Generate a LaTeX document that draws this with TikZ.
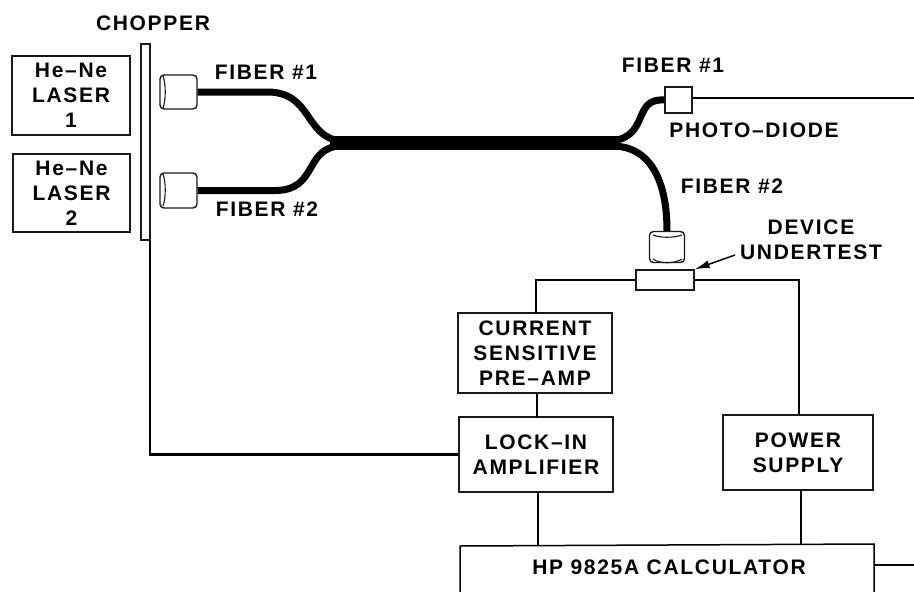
\documentclass[tikz,border=0pt]{standalone}
\usepackage{fontspec}
\setmainfont[LetterSpace=8]{Liberation Sans}
\usetikzlibrary{arrows.meta}
\tikzset{
  px/.style={x=1pt,y=-1pt},
  lbl/.style={font=\fontsize{21}{25}\selectfont\bfseries,inner sep=0pt,align=center,text=black},
  boxn/.style={draw=black!90,line width=1.5pt,inner sep=0pt,minimum width=#1,align=center,font=\fontsize{21}{25}\selectfont\bfseries},
  wire/.style={draw=black,line width=2.2pt},
  fiber/.style={draw=black,line width=7pt},
  part/.style={draw=black!90,line width=1.4pt,fill=white,inner sep=0pt,rounded corners=2pt}
}
\begin{document}
\begin{tikzpicture}[px]
\useasboundingbox (0,0) rectangle (914,592);
% boxes
\node[boxn=118pt,minimum height=79pt] (laser1) at (71,95.5) {He--Ne\\LASER\\1};
\node[boxn=117pt,minimum height=78pt] (laser2) at (71.5,193) {He--Ne\\LASER\\2};
\node[part,rounded corners=0pt,minimum width=9pt,minimum height=196pt] (chopper) at (145.5,142) {};
\node[lbl] (choplbl) at (153,23) {CHOPPER};
% fibers
\node[part,rounded corners=4pt,minimum width=37pt,minimum height=34pt] (conn1) at (178.5,92) {};
\node[part,rounded corners=4pt,minimum width=37pt,minimum height=35pt] (conn2) at (178.5,190.5) {};
\draw[black!90,line width=1.1pt] (163,76) .. controls (166,84) and (166,100) .. (163,108);
\draw[black!90,line width=1.1pt] (163,174) .. controls (166,182) and (166,198) .. (163,206);
\coordinate (j1) at (340,141);
\coordinate (j2) at (340,146);
\coordinate (j3) at (612,141);
\coordinate (j4) at (612,146);
\draw[fiber] (conn1.east) -- ++(68,0) .. controls (312,91) and (304,136) .. (j1);
\draw[fiber] (conn2.east) -- ++(78,0) .. controls (318,190) and (304,148) .. (j2);
\draw[draw=black,line width=14pt] (330,142.5) -- (618,142.5);
\node[part,rounded corners=0pt,minimum width=27pt,minimum height=26pt] (diode) at (678.5,100) {};
\draw[fiber] (j3) .. controls (650,136) and (632,98) .. (diode.west);
\node[part,rounded corners=4pt,minimum width=35pt,minimum height=31pt] (conn3) at (667,247) {};
\draw[black!90,line width=1.1pt] (653,259) .. controls (660,264) and (674,264) .. (682,259);
\draw[black!90,line width=1.1pt] (653,235) .. controls (660,238) and (674,238) .. (682,235);
\draw[fiber] (j4) .. controls (650,146) and (667,180) .. (conn3.north);
\node[part,rounded corners=0pt,minimum width=58pt,minimum height=20pt] (device) at (665,280) {};
\node[lbl] (fib1a) at (266,72) {FIBER \#1};
\node[lbl] (fib2a) at (267,209) {FIBER \#2};
\node[lbl] (fib1b) at (673,65) {FIBER \#1};
\node[lbl] (fib2b) at (732,186) {FIBER \#2};
\node[lbl] (pd) at (754,130) {PHOTO--DIODE};
\node[lbl] (dut) at (811,239.5) {DEVICE\\UNDERTEST};
\coordinate (dutarr) at (735,255);
\draw[black,line width=1.5pt,-{Latex[length=15pt,width=8pt]}] (dutarr) -- (device.north east);
% lower boxes
\node[boxn=154pt,minimum height=80pt] (preamp) at (535,353) {CURRENT\\SENSITIVE\\PRE--AMP};
\node[boxn=154pt,minimum height=75pt] (lockin) at (536,454.5) {LOCK--IN\\AMPLIFIER};
\node[boxn=150pt,minimum height=75pt] (power) at (798,452.5) {POWER\\SUPPLY};
% calculator
\coordinate (calcbl) at (460,592);
\coordinate (calcbr) at (874,592);
\coordinate (calctl) at (460,546);
\coordinate (calctr) at (874,544);
\draw[wire,line width=1.5pt] (calcbl) -- (calctl) -- (calctr) -- (calcbr);
\node[lbl] (calc) at (669,567) {HP 9825A CALCULATOR};
% wires
\coordinate (e1) at (914,98);
\coordinate (e2) at (914,565);
\draw[wire] (diode.east |- e1) -- (e1);
\draw[wire] (874,565) -- (e2);
\draw[wire] (device.west) -| (536,313);
\draw[wire] (device.east) -| (799,415);
\draw[wire] (537,393) -- (537,417);
\draw[wire] (538,492) -- (538,545);
\draw[wire] (801,490) -- (801,544);
\draw[wire] (150,240) |- (lockin.west);
\end{tikzpicture}
\end{document}
